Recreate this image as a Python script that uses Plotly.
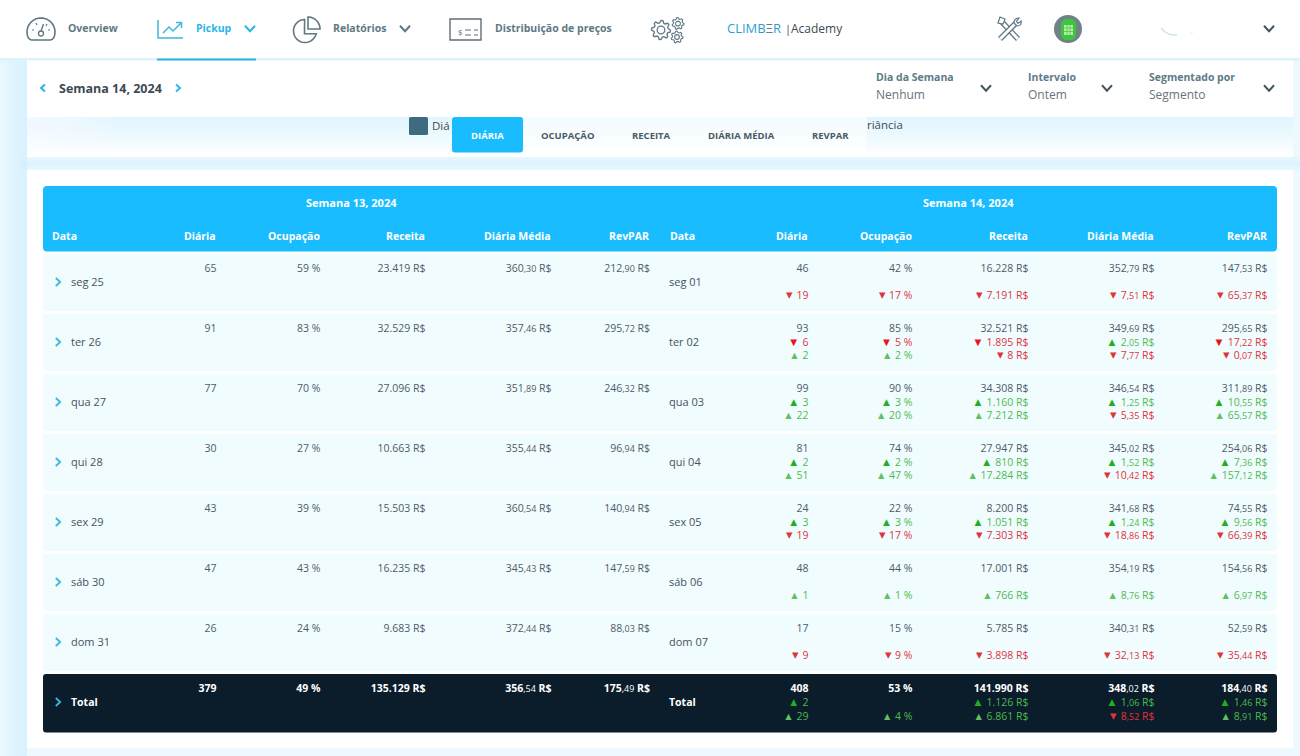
import math
import plotly.graph_objects as go

# week 13 table
days13 = ["seg 25", "ter 26", "qua 27", "qui 28", "sex 29", "sáb 30", "dom 31", "Total"]
diaria13 = [65, 91, 77, 30, 43, 47, 26, 379]
ocup13 = [59, 83, 70, 27, 39, 43, 24, 49]
receita13 = [23419, 32529, 27096, 10663, 15503, 16235, 9683, 135129]
media13 = [360.30, 357.46, 351.89, 355.44, 360.54, 345.43, 372.44, 356.54]
revpar13 = [212.90, 295.72, 246.32, 96.94, 140.94, 147.59, 88.03, 175.49]

# week 14 table
days14 = ["seg 01", "ter 02", "qua 03", "qui 04", "sex 05", "sáb 06", "dom 07", "Total"]
diaria14 = [46, 93, 99, 81, 24, 48, 17, 408]
ocup14 = [42, 85, 90, 74, 22, 44, 15, 53]
receita14 = [16228, 32521, 34308, 27947, 8200, 17001, 5785, 141990]
media14 = [352.79, 349.69, 346.54, 345.02, 341.68, 354.19, 340.31, 348.02]
revpar14 = [147.53, 295.65, 311.89, 254.06, 74.55, 154.56, 52.59, 184.40]

# variation against the previous interval
diaria_var1 = [None, -6, 3, 2, 3, None, None, 2]
ocup_var1 = [None, -5, 3, 2, 3, None, None, None]
receita_var1 = [None, -1895, 1160, 810, 1051, None, None, 1126]
media_var1 = [None, 2.05, 1.25, 1.52, 1.24, None, None, 1.06]
revpar_var1 = [None, -17.22, 10.55, 7.36, 9.56, None, None, 1.46]

# variation against the previous week
diaria_var2 = [-19, 2, 22, 51, -19, 1, -9, 29]
ocup_var2 = [-17, 2, 20, 47, -17, 1, -9, 4]
receita_var2 = [-7191, -8, 7212, 17284, -7303, 766, -3898, 6861]
media_var2 = [-7.51, -7.77, -5.35, -10.42, -18.86, 8.76, -32.13, -8.52]
revpar_var2 = [-65.37, -0.07, 65.57, 157.12, -66.39, 6.97, -35.44, 8.91]

headers = ["Diária", "Ocupação", "Receita", "Diária Média", "RevPAR"]
tabs = ["OCUPAÇÃO", "RECEITA", "DIÁRIA MÉDIA", "REVPAR"]

FONT = "Open Sans"
BLUE = "#19BDFF"
ICON = "#5F7884"
DARK = "#4F5B66"
RED = "#E0343A"
GREEN = "#4DBB4D"

shapes = []
annotations = []
fig = go.Figure()


def rect(x0, y0, x1, y1, color, opacity=1):
    shapes.append(dict(type="rect", x0=x0, y0=y0, x1=x1, y1=y1, fillcolor=color,
                       opacity=opacity, line_width=0, layer="below"))


def round_rect(x0, y0, x1, y1, r, color):
    p = (f"M{x0+r} {y0} H{x1-r} Q{x1} {y0} {x1} {y0+r} V{y1-r} Q{x1} {y1} {x1-r} {y1} "
         f"H{x0+r} Q{x0} {y1} {x0} {y1-r} V{y0+r} Q{x0} {y0} {x0+r} {y0} Z")
    shapes.append(dict(type="path", path=p, fillcolor=color, line_width=0, layer="below"))


def stroke(path, color=ICON, width=1.6, fill=None):
    shapes.append(dict(type="path", path=path, line=dict(color=color, width=width),
                       fillcolor=fill or "rgba(0,0,0,0)", layer="below"))


def arc(cx, cy, r, a0, a1, n=24):
    # plotly paths have no arc command, so arcs go in as short segments
    out = []
    for i in range(n + 1):
        a = math.radians(a0 + (a1 - a0) * i / n)
        out.append(f"{cx + r * math.cos(a):.1f} {cy + r * math.sin(a):.1f}")
    return " L".join(out)


def chevron(x, y, direction="down", color="#46545E", s=4.5, width=2):
    if direction == "down":
        stroke(f"M{x-s} {y-s*0.55} L{x} {y+s*0.55} L{x+s} {y-s*0.55}", color, width)
    elif direction == "right":
        stroke(f"M{x-s*0.55} {y-s} L{x+s*0.55} {y} L{x-s*0.55} {y+s}", color, width)
    else:
        stroke(f"M{x+s*0.55} {y-s} L{x-s*0.55} {y} L{x+s*0.55} {y+s}", color, width)


def gear(cx, cy, r, teeth, width=1.3):
    pts = []
    for i in range(teeth * 4):
        rr = r if i % 4 < 2 else r * 0.76
        a = 2 * math.pi * i / (teeth * 4)
        pts.append(f"{cx + rr * math.cos(a):.1f} {cy + rr * math.sin(a):.1f}")
    stroke("M" + " L".join(pts) + " Z", ICON, width)
    shapes.append(dict(type="circle", x0=cx - r * .4, x1=cx + r * .4, y0=cy - r * .4, y1=cy + r * .4,
                       line=dict(color=ICON, width=width), layer="below"))


def label(x, y, text, color=DARK, size=11, anchor="left", bold=False):
    # annotations keep about 2px of padding around the text
    if anchor == "left":
        x -= 2
    elif anchor == "right":
        x += 2
    annotations.append(dict(x=x, y=y, text=f"<b>{text}</b>" if bold else text, showarrow=False,
                            xanchor=anchor, yanchor="middle", xref="x", yref="y",
                            font=dict(family=FONT, size=size, color=color)))


def text_col(xs, ys, texts, color=DARK, size=10.5, pos="middle left"):
    fig.add_trace(go.Scatter(x=xs, y=ys, text=texts, mode="text", textposition=pos,
                             textfont=dict(family=FONT, size=size, color=color),
                             hoverinfo="skip", showlegend=False, cliponaxis=False))


def br(v):
    return f"{v:,}".replace(",", ".")


def money(v, strong=False):
    if isinstance(v, float):
        whole, dec = f"{abs(v):.2f}".split(".")
        small = f"<span style='font-size:9px'>,{dec}</span>"
        return f"<b>{whole}</b>{small}<b> R$</b>" if strong else f"{whole}{small} R$"
    s = f"{br(abs(v))} R$"
    return f"<b>{s}</b>" if strong else s


def delta(v, kind, unit=""):
    # kind 1 has the heavy triangle, kind 2 the small light one
    if v is None:
        return ""
    up = v > 0
    if kind == 1:
        glyph, gs, col = ("▲", 11.5, "#1FB01F") if up else ("▼", 11.5, "#E8141C")
    else:
        glyph, gs, col = ("▲", 10.5, "#62C062") if up else ("▾", 13, "#E0343A")
    head = f"<span style='color:{col};font-size:{gs}px'>{glyph}\u00a0</span>"
    if unit == "R$":
        return head + money(v)
    return head + f"{abs(v)}{unit}"


# page background and card shadows
rect(0, 0, 1300, 756, "#EDF9FE")
for i in range(9):
    rect(0 + i * 3, 58, 27, 756, "#CFEFFB", 0.08)
for i in range(4):
    rect(20, 157 + i * 1.5, 1300, 170 - i * 1.5, "#CFF0FC", 0.14)
rect(27, 60, 1293, 117, "#FFFFFF")
rect(27, 117, 1293, 157, "#FFFFFF")
for i in range(10):
    rect(27, 117, 1293, 117 + (i + 1) * 3.6, "#D8F4FD", 0.11)
for i in range(6):
    rect(27, 117, 27 + (6 - i) * 14, 157, "#FFFFFF", 0.12)
rect(27, 170, 1293, 748, "#FFFFFF")
rect(0, 0, 1300, 58, "#FFFFFF")
rect(0, 58, 1300, 60.5, "#DDF3FB")
rect(157, 58.5, 256, 60.5, "#29B5E0")

# top navigation icons
stroke("M31.5 40 Q27 39 27 32 L" + arc(41, 32, 14, 180, 360) + " Q55 39 50.5 40 Z")
stroke("M43.5 24 L41 31", width=1.4)
shapes.append(dict(type="circle", x0=38.5, x1=43.5, y0=31, y1=36, line=dict(color=ICON, width=1.3), layer="below"))
stroke("M32 30 L34 30 M36 23 L37 25 M47 24 L46 26 M50 30 L48 30", width=1.2)
stroke("M158 20 V38 H183", "#3FB6DC", 1.5)
stroke("M163 33 L169 27 L173 31 L181 23 M176 22.5 H181.5 V28", "#3FB6DC", 1.5)
stroke("M304.5 33.8 L" + arc(305, 31, 11.5, 268, 14, 32) + " Z")
stroke("M308 29 L" + arc(308, 29, 12, 270, 360) + " Z")
stroke("M450 19 H481 V40 H450 Z", "#5F6F78", 1.4)
stroke("M465 30 H471 M474 30 H478 M465 35 H471 M474 35 H478", "#5F6F78", 1.1)
label(458, 31, "$", "#5F6F78", 8)
gear(661, 30, 9.5, 8)
gear(678, 23.5, 6, 7, 1.1)
gear(677, 37, 6, 7, 1.1)
for path in ["M1001 21 L1018 39", "M1017 22 L1000 39"]:
    stroke(path, ICON, 5.5)
    stroke(path, "#FFFFFF", 3)
stroke("M1000 17 L998 23 L1003 24 L1005 19 Z", ICON, 1.2, "#FFFFFF")
stroke("M1021 21 Q1022 26 1017 26 L1014 23 Q1014 18 1019 18 L1016.5 21.5 L1018 23.5 Z", ICON, 1.2, "#FFFFFF")
shapes.append(dict(type="circle", x0=1054, x1=1082, y0=15, y1=43, fillcolor="#6E8287", line_width=0, layer="below"))
round_rect(1061, 19, 1076, 40, 6, "#3FC43F")
round_rect(1064, 25, 1073, 35, 0.5, "#B7EFA8")
stroke("M1067 25 V35 M1070 25 V35 M1064 28 H1073 M1064 31.5 H1073", "#3FC43F", 0.7)
stroke("M1161 28 L1165 32 Q1171 36 1177 35", "#BFE6D8", 1.3)
stroke("M1190 33 H1193", "#E4F1EE", 1)

chevron(250, 28.5, "down", "#2FB4E4", 5, 2)
chevron(405, 28.5, "down", ICON, 5, 2)
chevron(1269, 28.5, "down", "#46545E", 5, 2)
label(68, 28, "Overview", ICON, 10.5, bold=True)
label(196, 28, "Pickup", "#29B6E8", 10.5, bold=True)
label(333, 28, "Relatórios", ICON, 10.5, bold=True)
label(495, 28, "Distribuição de preços", ICON, 10.5, bold=True)
label(727, 28, "CLIMB<span style='color:#6b7c85'>Ξ</span>R", "#2C9FD0", 13)
label(785, 28, "|", "#3E4A52", 11)
label(791, 28, "Academy", "#3E4A52", 12)

# period and filters
chevron(43, 88, "left", "#29B6E8", 3.5, 2)
chevron(178, 88, "right", "#29B6E8", 3.5, 2)
label(59, 88, "Semana 14, 2024", "#3E4A52", 12.5, bold=True)
filters = [(876, 986, "Dia da Semana", "Nenhum"), (1028, 1107, "Intervalo", "Ontem"),
           (1149, 1269, "Segmentado por", "Segmento")]
for x, cx, top, val in filters:
    label(x, 77, top, "#5D7A88", 10.5, bold=True)
    label(x, 94.5, val, "#6A747C", 12)
    chevron(cx, 88, "down", "#46545E", 5, 2)

# tab strip over the clipped legend
round_rect(409, 117, 428, 135, 1.5, "#3F6B80")
label(432, 125, "Diá", "#3E4A52", 11.5)
label(867, 124, "riância", "#3E4A52", 11.5)
rect(452, 117, 867, 153, "#FFFFFF", 0.62)
round_rect(452, 117, 523, 152.5, 3, BLUE)
label(487.5, 135, "DIÁRIA", "#FFFFFF", 9.5, "center", True)
for cx, tab in zip([568, 651, 741, 830.5], tabs):
    label(cx, 135, tab, "#4A5A64", 9.5, "center", True)

# table frame
round_rect(43, 186, 1277, 251.5, 4, BLUE)
row_tops = [254, 314, 374, 434, 494, 554, 614]
for t in row_tops:
    round_rect(43, t, 1277, t + 57, 3, "#F1FCFF")
round_rect(43, 674, 1277, 732.5, 3, "#0B1C2B")

label(351, 202, "Semana 13, 2024", "#FFFFFF", 11, "center", True)
label(968, 202, "Semana 14, 2024", "#FFFFFF", 11, "center", True)
label(52, 235.5, "Data", "#FFFFFF", 10.5, bold=True)
label(670, 235.5, "Data", "#FFFFFF", 10.5, bold=True)
right13 = [216.5, 320.5, 425.5, 551.5, 650]
right14 = [808.5, 912.5, 1028.5, 1154.5, 1267.5]
for xr, h in zip(right13 + right14, headers + headers):
    label(xr - 0.7, 235.5, h, "#FFFFFF", 10.5, "right", True)

# rows
y_mid = [t + 29.4 for t in row_tops] + [703.4]
y_top = [t + 15.4 for t in row_tops] + [689.4]
y_bot = [t + 42 for t in row_tops] + [717.4]

for t in row_tops + [674]:
    chevron(58, t + 28, "right", "#3FB6DC", 4, 1.8)

cols13 = [
    ([str(v) for v in diaria13], [f"<b>{diaria13[7]}</b>"]),
    ([f"{v} %" for v in ocup13], [f"<b>{ocup13[7]} %</b>"]),
    ([money(v) for v in receita13], [money(receita13[7], True)]),
    ([money(v) for v in media13], [money(media13[7], True)]),
    ([money(v) for v in revpar13], [money(revpar13[7], True)]),
]
cols14 = [
    ([str(v) for v in diaria14], [f"<b>{diaria14[7]}</b>"], diaria_var1, diaria_var2, ""),
    ([f"{v} %" for v in ocup14], [f"<b>{ocup14[7]} %</b>"], ocup_var1, ocup_var2, " %"),
    ([money(v) for v in receita14], [money(receita14[7], True)], receita_var1, receita_var2, "R$"),
    ([money(v) for v in media14], [money(media14[7], True)], media_var1, media_var2, "R$"),
    ([money(v) for v in revpar14], [money(revpar14[7], True)], revpar_var1, revpar_var2, "R$"),
]

text_col([71] * 7, y_mid[:7], days13[:7], "#46525C", 11, "middle right")
text_col([71], y_mid[7:], [f"<b>{days13[7]}</b>"], "#FFFFFF", 10.5, "middle right")
text_col([669] * 7, y_mid[:7], days14[:7], "#46525C", 11, "middle right")
text_col([669], y_mid[7:], [f"<b>{days14[7]}</b>"], "#FFFFFF", 10.5, "middle right")

for xr, (vals, total) in zip(right13, cols13):
    text_col([xr] * 7, y_top[:7], vals[:7])
    text_col([xr], y_top[7:], total, "#FFFFFF")

for xr, (vals, total, var1, var2, unit) in zip(right14, cols14):
    text_col([xr] * 7, y_top[:7], vals[:7])
    text_col([xr], y_top[7:], total, "#FFFFFF")
    for var, ys, kind in [(var1, y_mid, 1), (var2, y_bot, 2)]:
        for colr, keep in [(GREEN, lambda v: v > 0), (RED, lambda v: v < 0)]:
            idx = [k for k, v in enumerate(var) if v is not None and keep(v)]
            if not idx:
                continue
            text_col([xr] * len(idx), [ys[k] for k in idx], [delta(var[k], kind, unit) for k in idx], colr)

fig.update_layout(
    width=1300, height=756, margin=dict(l=0, r=0, t=0, b=0), autosize=False,
    paper_bgcolor="#EDF9FE", plot_bgcolor="#EDF9FE",
    xaxis=dict(range=[0, 1300], visible=False, fixedrange=True),
    yaxis=dict(range=[756, 0], visible=False, fixedrange=True),
    shapes=shapes, annotations=annotations, showlegend=False,
)
fig.write_html("out.html", config={"displayModeBar": False},
               post_script="document.body.style.margin='0';document.body.style.overflow='hidden';")
